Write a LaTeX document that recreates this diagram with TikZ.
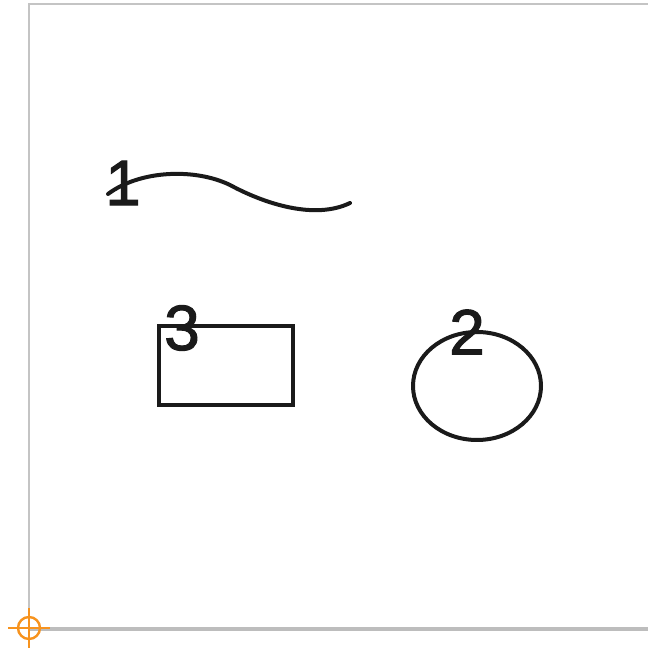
\documentclass[tikz,border=0pt]{standalone}
\usepackage{fontspec}
\setmainfont{Liberation Sans}
\newfontfamily\digitfont[FakeBold=1.6]{Liberation Sans}
\definecolor{framegray}{HTML}{C4C4C4}
\definecolor{axisgray}{HTML}{BDBDBD}
\definecolor{crossorange}{HTML}{F7931E}
\definecolor{ink}{HTML}{1A1A1A}
\tikzset{
  shapeline/.style={draw=ink, line width=4pt},
  digit/.style={inner sep=0pt, text=ink, font=\digitfont\fontsize{64}{64}\selectfont},
  crossline/.style={draw=crossorange, line width=2.4pt}
}
\begin{document}
\begin{tikzpicture}[x=1pt,y=1pt]
\useasboundingbox (0,0) rectangle (648,648);
\fill[white] (0,0) rectangle (648,648);
% frame
\coordinate (fbl) at (29,20);
\coordinate (ftl) at (29,644);
\coordinate (ftr) at (648,644);
\draw[framegray, line width=1.4pt] (fbl) -- (ftl) -- (ftr);
\coordinate (axl) at (30,19);
\coordinate (axr) at (648,19);
\draw[axisgray, line width=4.5pt] (axl) -- (axr);
% crosshair
\coordinate (origin) at (29,20);
\draw[crossline] (origin) circle (11);
\draw[crossline] ([xshift=-21pt]origin) -- ([xshift=21pt]origin);
\draw[crossline] ([yshift=-20pt]origin) -- ([yshift=20pt]origin);
% curve
\coordinate (cs) at (108,454);
\coordinate (cm) at (230,463);
\coordinate (ce) at (350,445);
\draw[shapeline, line cap=round] (cs) .. controls (140,478) and (195,480) .. (cm)
  .. controls (265,444) and (315,428) .. (ce);
% rectangle
\node[shapeline, rectangle, minimum width=134pt, minimum height=79pt, inner sep=0pt] (rect) at (226,282.5) {};
% ellipse
\draw[shapeline] (477,262) ellipse (64 and 54);
\coordinate (ell) at (477,262);
% labels
\node[digit] (l1) at (123,465) {1};
\node[digit] (l3) at (182,320) {3};
\node[digit] (l2) at (467,316) {2};
\end{tikzpicture}
\end{document}
